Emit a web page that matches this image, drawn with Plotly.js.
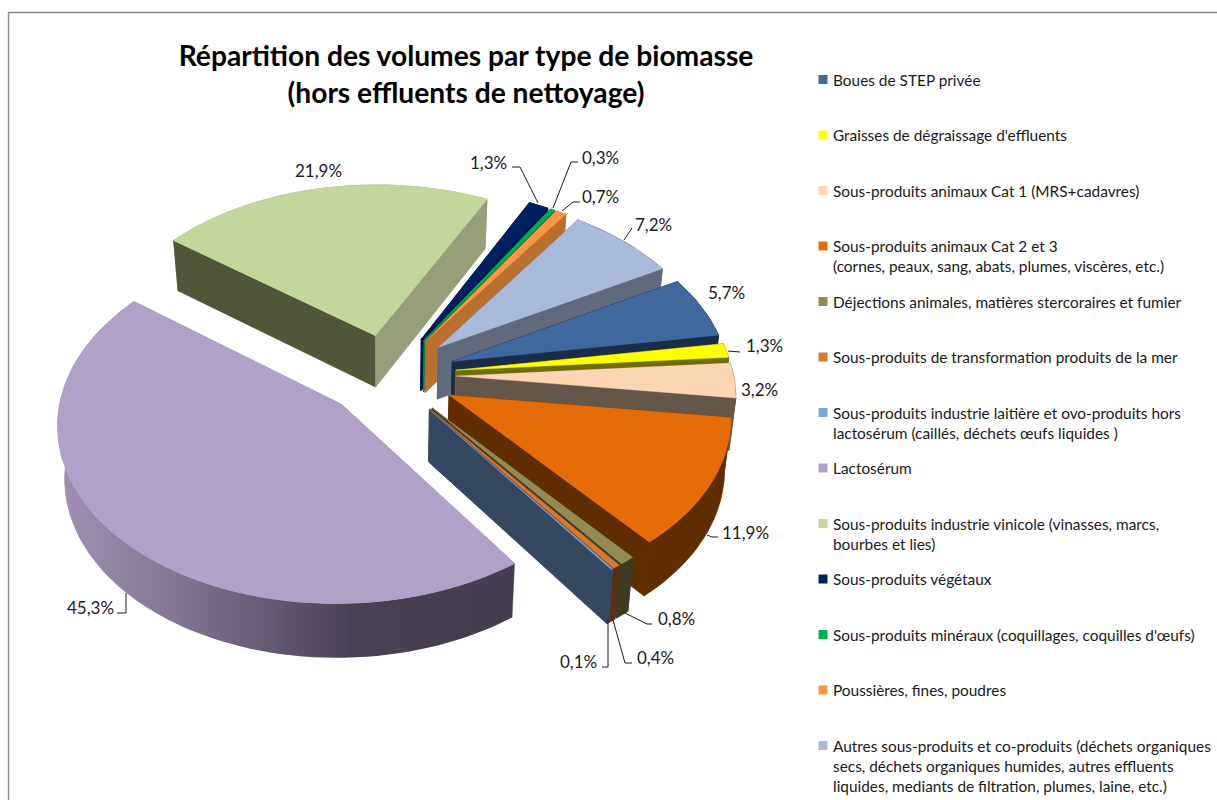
<!DOCTYPE html>
<html lang="fr">
<head>
<meta charset="utf-8">
<script src="https://cdn.plot.ly/plotly-3.0.1.min.js"></script>
<style>html,body{margin:0;padding:0;background:#fff}#chart{width:1217px;height:800px}</style>
</head>
<body>
<div id="chart"></div>
<script>
// ---- data ----
const categories = [
  "Boues de STEP privée",
  "Graisses de dégraissage d'effluents",
  "Sous-produits animaux Cat 1 (MRS+cadavres)",
  "Sous-produits animaux Cat 2 et 3<br>(cornes, peaux, sang, abats, plumes, viscères, etc.)",
  "Déjections animales, matières stercoraires et fumier",
  "Sous-produits de transformation produits de la mer",
  "Sous-produits industrie laitière et ovo-produits hors<br>lactosérum (caillés, déchets œufs liquides )",
  "Lactosérum",
  "Sous-produits industrie vinicole (vinasses, marcs,<br>bourbes et lies)",
  "Sous-produits végétaux",
  "Sous-produits minéraux (coquillages, coquilles d'œufs)",
  "Poussières, fines, poudres",
  "Autres sous-produits et co-produits (déchets organiques<br>secs, déchets organiques humides, autres effluents<br>liquides, mediants de filtration, plumes, laine, etc.)"
];
const values = [5.7, 1.3, 3.2, 11.9, 0.8, 0.4, 0.1, 45.3, 21.9, 1.3, 0.3, 0.7, 7.2];

// ---- style ----
const topColors  = ["#3F689F","#FFFF00","#FCD5B5","#E66C0A","#948A54","#D9782F","#7BA6DC","#B1A0C7","#C3D69B","#002060","#00B050","#F79646","#A9B9D9"];
const rimColors  = ["#1A2C47","#6E6E00","#65564A","#5F2D00","#3E3A24","#5A3018","#364860","#463C50","#969F7A","#001A50","#008A40","#B8702F","#5F6A7C"];
const startCut   = ["#1A2C47","#6E6E00","#65564A","#5F2D00","#3E3A24","#5A3018","#364860","#B1A0C7","#4F5639","#001A50","#008A40","#B8702F","#5F6A7C"];
const endCut     = ["#1A2C47","#6E6E00","#65564A","#5F2D00","#3E3A24","#5A3018","#364860","#B1A0C7","#969F7A","#001A50","#008A40","#B8702F","#5F6A7C"];
const drawOrder  = [8,9,10,11,12,0,1,2,3,4,5,6,7];
const lactoseGradient = [[0,"#A091B5"],[0.25,"#857792"],[0.42,"#6C5F7B"],[0.645,"#4B4155"],[1,"#463C50"]];

// ---- view of the tilted, exploded pie ----
const view = {cx:390, cy:375, ax:277, ay:173, persp:0.10, depth:52, shrink:0.98, startDeg:60.5, explode:0.24};

function project(X, Y, low) {
  const s = 1 / (1 - view.persp * Y);
  const k = low ? view.shrink : 1;
  return [view.cx + view.ax * X * s * k,
          view.cy + view.ay * Y * s + (low ? view.depth * (1 + 0.04 * Y) : 0)];
}
const total = values.reduce((a, b) => a + b, 0);
const dir = deg => { const r = deg * Math.PI / 180; return [Math.sin(r), -Math.cos(r)]; };
function sliceGeometry(i) {
  const before = values.slice(0, i).reduce((a, b) => a + b, 0);
  const a0 = view.startDeg + before / total * 360;
  const a1 = a0 + values[i] / total * 360;
  const m = dir((a0 + a1) / 2);
  const c = [m[0] * view.explode, m[1] * view.explode];
  const n = Math.max(2, Math.ceil((a1 - a0) / 2));
  const arc = [];
  for (let k = 0; k <= n; k++) {
    const d = dir(a0 + (a1 - a0) * k / n);
    arc.push([c[0] + d[0], c[1] + d[1]]);
  }
  return {c, arc, farSide: m[1] < -0.2};
}
function poly(name, pts, color, width, extra) {
  return Object.assign({
    type:"scatter", mode:"lines", name,
    x: pts.map(p => p[0]), y: pts.map(p => p[1]),
    fill:"toself", fillcolor:color, line:{color:color, width:width},
    hoverinfo:"skip", showlegend:false
  }, extra || {});
}
const traces = [];
drawOrder.forEach(i => {
  const g = sliceGeometry(i);
  const A = project(g.c[0], g.c[1], false), B = project(g.c[0], g.c[1], true);
  const up = g.arc.map(p => project(p[0], p[1], false));
  const lo = g.arc.map(p => project(p[0], p[1], true));
  const last = up.length - 1;
  const wall = up.concat(lo.slice().reverse());
  wall.push(up[0]);
  const extra = i === 7 ? {fillgradient:{type:"horizontal", colorscale:lactoseGradient, start:57, stop:513}, line:{color:"rgba(0,0,0,0)", width:0}} : null;
  const rimTrace = poly(categories[i] + " (bord)", wall, rimColors[i], 0.8, extra);
  if (g.farSide) traces.push(rimTrace);
  traces.push(poly(categories[i] + " (coupe)", [A, up[0], lo[0], B, A], startCut[i], 0.8));
  traces.push(poly(categories[i] + " (coupe)", [A, up[last], lo[last], B, A], endCut[i], 0.8));
  if (!g.farSide) traces.push(rimTrace);
  traces.push(poly(categories[i], [A].concat(up, [A]), topColors[i], i === 7 || i === 8 ? 1 : 0.4));
});

// ---- legend drawn at a fixed pitch ----
const legendX = 823, legendTextX = 831, legendTop = 79.5, legendPitch = 55.5, legendLine = 20;
const annotations = [];
const legendXs = [], legendYs = [];
categories.forEach((c, i) => {
  const y0 = legendTop + i * legendPitch;
  legendXs.push(legendX); legendYs.push(y0);
  c.split("<br>").forEach((ln, j) => annotations.push({
    x:legendTextX, y:y0 + j * legendLine, xref:"x", yref:"y", text:ln, showarrow:false,
    xanchor:"left", yanchor:"middle", font:{family:"Lato, sans-serif", size:15.4, color:"#1a1a1a"}
  }));
});
traces.push({type:"scatter", mode:"markers", x:legendXs, y:legendYs, hoverinfo:"skip", showlegend:false,
  name:"légende", marker:{symbol:"square", size:9, color:topColors, line:{width:0}}});

// ---- value labels and their leader lines ----
const labelAt = [[726,292],[764,345],[759,389],[745,532],[676,618],[655,657],[578,661],[90,607],[318,170],[488,162],[600,157],[600,196],[653,224]];
const leaders = [
  null,
  [[740,352],[728,351]],
  null,
  [[718,537],[712,537],[707,535]],
  [[652,624],[647,624],[623,612]],
  [[632,663],[625,663],[613,620]],
  [[602,667],[608,667],[608,620]],
  [[117,613],[126,613],[126,593]],
  null,
  [[512,167],[520,167],[538,203]],
  [[578,162],[571,162],[553,208]],
  [[580,202],[573,202],[562,211]],
  [[632,228],[624,240]]
];
values.forEach((v, i) => annotations.push({
  x:labelAt[i][0], y:labelAt[i][1], xref:"x", yref:"y", showarrow:false,
  text:v.toFixed(1).replace(".", ",") + "%", xanchor:"center", yanchor:"middle",
  font:{family:"Lato, sans-serif", size:17, color:"#1a1a1a"}
}));
const shapes = [
  {type:"line", xref:"x", yref:"y", x0:8, y0:12.5, x1:1217, y1:12.5, line:{color:"#8c8c8c", width:1.4}},
  {type:"line", xref:"x", yref:"y", x0:8.5, y0:12, x1:8.5, y1:800, line:{color:"#8c8c8c", width:1.4}}
];
leaders.forEach(l => {
  if (!l) return;
  for (let k = 0; k < l.length - 1; k++) shapes.push({type:"line", xref:"x", yref:"y",
    x0:l[k][0], y0:l[k][1], x1:l[k+1][0], y1:l[k+1][1], line:{color:"#1a1a1a", width:1}});
});

const layout = {
  width:1217, height:800, margin:{l:0, r:0, t:0, b:0},
  paper_bgcolor:"#fff", plot_bgcolor:"#fff", showlegend:false,
  title:{text:"<b>Répartition des volumes par type de biomasse<br>(hors effluents de nettoyage)</b>",
    x:466/1217, xanchor:"center", y:1-66/800, yanchor:"top",
    font:{family:"Lato, sans-serif", size:28.2, color:"#000"}},
  xaxis:{range:[0,1217], visible:false, fixedrange:true},
  yaxis:{range:[800,0], visible:false, fixedrange:true},
  annotations, shapes
};
Plotly.newPlot("chart", traces, layout, {displayModeBar:false, staticPlot:true});
</script>
</body>
</html>
